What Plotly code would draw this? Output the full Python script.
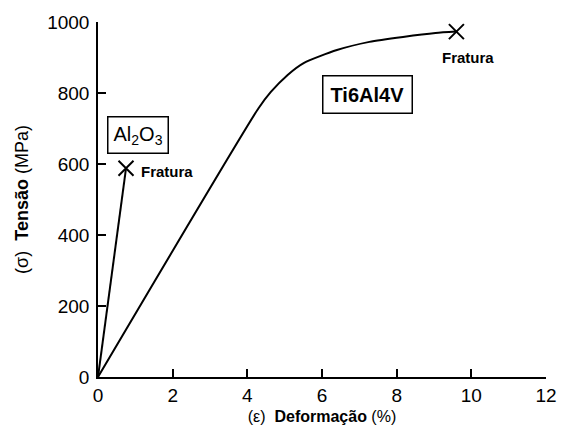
import plotly.graph_objects as go

# Data
al2o3_strain = [0.0, 0.75]
al2o3_stress = [0, 588]

ti_strain = [0.0, 4.3, 4.63, 5.08, 5.52, 6.4, 7.27, 8.17, 9.04, 9.6]
ti_stress = [0, 757, 803, 851, 885, 921, 944, 958, 969, 973]

x_ticks = [0, 2, 4, 6, 8, 10, 12]
y_ticks = [0, 200, 400, 600, 800, 1000]

font_family = "Liberation Sans, Arial, sans-serif"

fig = go.Figure()
fig.add_trace(go.Scatter(x=al2o3_strain, y=al2o3_stress, mode="lines",
                         line=dict(color="black", width=2), hoverinfo="skip"))
fig.add_trace(go.Scatter(x=ti_strain, y=ti_stress, mode="lines",
                         line=dict(color="black", width=2, shape="spline", smoothing=0.6),
                         hoverinfo="skip"))
# fracture markers
fig.add_trace(go.Scatter(x=[al2o3_strain[-1], ti_strain[-1]],
                         y=[al2o3_stress[-1], ti_stress[-1]], mode="markers",
                         marker=dict(symbol="x-thin", size=15, line=dict(color="black", width=2)),
                         hoverinfo="skip"))

fig.add_annotation(x=al2o3_strain[-1], y=al2o3_stress[-1], text="<b>Fratura</b>",
                   showarrow=False, xanchor="left", yanchor="middle", xshift=13, yshift=-3,
                   font=dict(size=15, color="black", family=font_family))
fig.add_annotation(x=ti_strain[-1], y=ti_stress[-1], text="<b>Fratura</b>",
                   showarrow=False, xanchor="center", yanchor="top", xshift=12, yshift=-15,
                   font=dict(size=15, color="black", family=font_family))
fig.add_annotation(x=1.07, y=683, xref="x", yref="y", text="Al<sub>2</sub>O<sub>3</sub>",
                   showarrow=False, xanchor="center", yanchor="middle",
                   bordercolor="black", borderwidth=1.5, borderpad=5,
                   font=dict(size=20, color="black", family=font_family))
fig.add_annotation(x=7.23, y=796, xref="x", yref="y", text="<b>Ti6Al4V</b>",
                   showarrow=False, xanchor="center", yanchor="middle",
                   bordercolor="black", borderwidth=1.5, borderpad=7,
                   font=dict(size=20, color="black", family=font_family))

# page body has an 8px margin, so the figure is sized to fit inside it
fig.update_layout(
    width=550, height=417,
    margin=dict(l=90, r=12, t=14, b=48, autoexpand=False),
    paper_bgcolor="white", plot_bgcolor="white",
    showlegend=False,
    font=dict(family=font_family, color="black", size=19),
)
fig.update_xaxes(range=[0, 12], tickvals=x_ticks, ticks="inside", ticklen=8,
                 tickwidth=1.5, tickcolor="black", automargin=False,
                 ticklabeloverflow="allow",
                 showline=True, linecolor="black", linewidth=1.5, showgrid=False,
                 zeroline=False, tickfont=dict(size=19),
                 title=dict(text="(ε)  <b>Deformação</b> (%)", font=dict(size=16), standoff=8))
fig.update_yaxes(range=[0, 1000], tickvals=y_ticks, ticks="inside", ticklen=8,
                 tickwidth=1.5, tickcolor="black", automargin=False,
                 showline=True, linecolor="black", linewidth=1.5, showgrid=False,
                 zeroline=False, tickfont=dict(size=19), ticklabelstandoff=3,
                 title=dict(text="(σ)  <b>Tensão</b> (MPa)", font=dict(size=18), standoff=14))

fig.write_html("out.html")
